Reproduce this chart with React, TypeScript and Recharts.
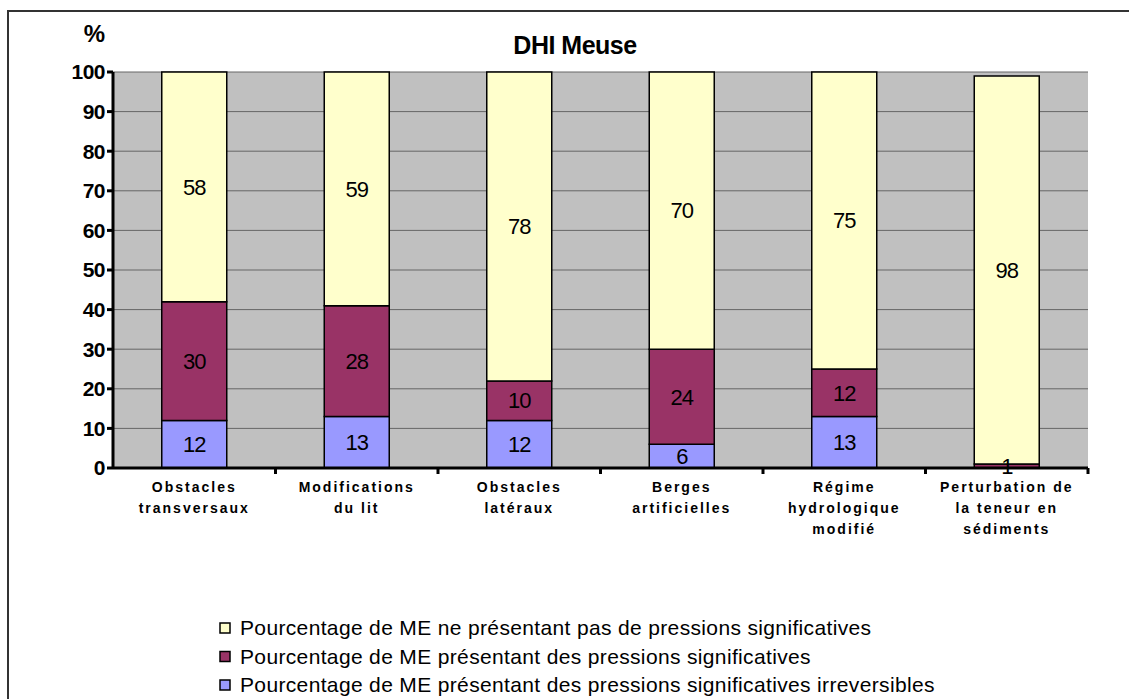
import React from 'react'
import { BarChart, Bar, XAxis, YAxis, CartesianGrid, LabelList } from 'recharts'

const categories = [
  'Obstacles\ntransversaux',
  'Modifications\ndu lit',
  'Obstacles\nlatéraux',
  'Berges\nartificielles',
  'Régime\nhydrologique\nmodifié',
  'Perturbation de\nla teneur en\nsédiments',
]
const irreversible = [12, 13, 12, 6, 13, 0]
const significant = [30, 28, 10, 24, 12, 1]
const notSignificant = [58, 59, 78, 70, 75, 98]
const yTicks = [0, 10, 20, 30, 40, 50, 60, 70, 80, 90, 100]

const series = [
  { key: 'notSignificant', name: 'Pourcentage de ME ne présentant pas de pressions significatives', color: '#FFFFCC' },
  { key: 'significant', name: 'Pourcentage de ME présentant des pressions significatives', color: '#993366' },
  { key: 'irreversible', name: 'Pourcentage de ME présentant des pressions significatives irreversibles', color: '#9999FF' },
]

const data = categories.map((c, i) => ({
  name: c,
  irreversible: irreversible[i],
  significant: significant[i],
  notSignificant: notSignificant[i],
}))

const FONT = 'Arial, "Liberation Sans", sans-serif'
const W = 1129
const H = 699
const M = { top: 72, right: 41, bottom: 131, left: 53 }
const Y_W = 60
const X_H = 100
const BAND = (W - M.left - Y_W - M.right) / categories.length

// category label centred under the bar, tick mark on the right edge of the band
function CategoryTick(props: any) {
  const { x, y, payload } = props
  const lines = String(payload.value).split('\n')
  return (
    <g>
      <line x1={x + BAND / 2} x2={x + BAND / 2} y1={y - 8} y2={y - 2} stroke="#000" strokeWidth={3} />
      <text x={x} y={y + 16} textAnchor="middle" fontFamily={FONT} fontSize={14} fontWeight="bold" letterSpacing={2} fill="#000">
        {lines.map((l, i) => (
          <tspan key={i} x={x} dy={i === 0 ? 0 : 21}>{l}</tspan>
        ))}
      </text>
    </g>
  )
}

const hideZero = (v: any) => (v ? v : '')

export default function App() {
  return (
    <div style={{ position: 'absolute', left: 0, top: 0, width: W, height: H, background: '#fff', overflow: 'hidden', fontFamily: FONT }}>
      <div style={{ position: 'absolute', left: 7, top: 10, width: W, height: H, border: '2px solid #333' }} />
      <div style={{ position: 'absolute', left: 0, top: 0 }}>
        <BarChart width={W} height={H} data={data} margin={M} barCategoryGap="30%">
          <CartesianGrid vertical={false} fill="#C0C0C0" stroke="#666" strokeOpacity={1} />
          <XAxis
            dataKey="name"
            height={X_H}
            interval={0}
            axisLine={{ stroke: '#000', strokeWidth: 3 }}
            tickLine={false}
            tick={<CategoryTick />}
          />
          <YAxis
            domain={[0, 100]}
            ticks={yTicks}
            interval={0}
            width={Y_W}
            axisLine={{ stroke: '#000', strokeWidth: 3 }}
            tickLine={{ stroke: '#000', strokeWidth: 3 }}
            tickSize={6}
            tick={{ fontFamily: FONT, fontSize: 21, fontWeight: 'bold', fill: '#000', letterSpacing: -0.5 }}
          />
          <YAxis
            yAxisId="frame"
            orientation="right"
            width={0}
            domain={[0, 100]}
            axisLine={{ stroke: '#777', strokeWidth: 2 }}
            tick={false}
            tickLine={false}
          />
          {[...series].reverse().map((s) => (
            <Bar key={s.key} dataKey={s.key} stackId="a" fill={s.color} stroke="#000" strokeWidth={1.5} isAnimationActive={false}>
              <LabelList
                dataKey={s.key}
                position="center"
                formatter={hideZero}
                style={{ fontFamily: FONT, fontSize: 22, fill: '#000', letterSpacing: -1 }}
              />
            </Bar>
          ))}
        </BarChart>
      </div>
      <svg width={W} height={H} style={{ position: 'absolute', left: 0, top: 0, pointerEvents: 'none' }} fontFamily={FONT}>
        <text x={94} y={42} textAnchor="middle" fontSize={24} fontWeight="bold" letterSpacing={-1}>%</text>
        <text x={575} y={54} textAnchor="middle" fontSize={25} fontWeight="bold" letterSpacing={-0.5}>DHI Meuse</text>
        {series.map((s, i) => (
          <g key={s.key}>
            <rect x={220} y={623 + i * 28.5} width={10} height={10} fill={s.color} stroke="#000" strokeWidth={1.5} />
            <text x={240} y={635 + i * 28.5} fontSize={21} letterSpacing={0.35}>{s.name}</text>
          </g>
        ))}
      </svg>
    </div>
  )
}
